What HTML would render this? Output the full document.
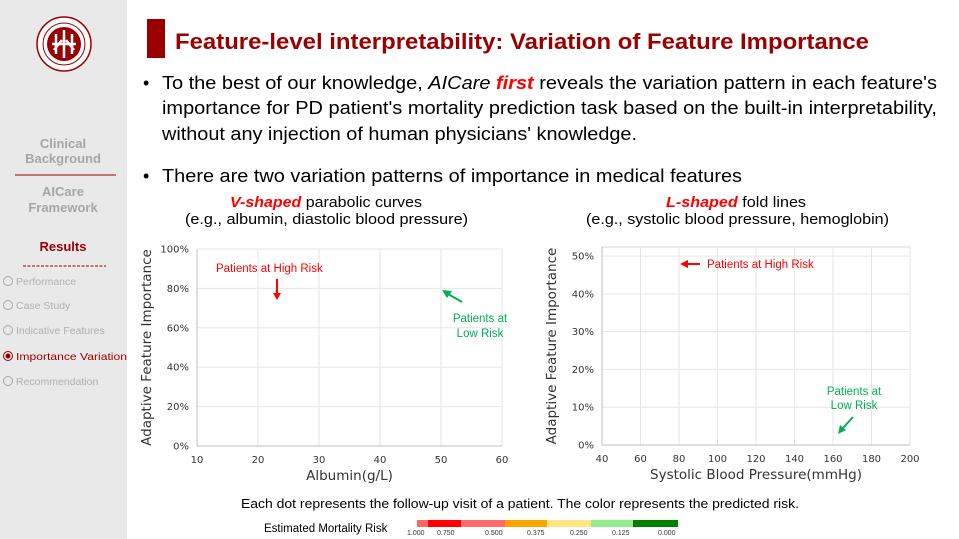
<!DOCTYPE html>
<html><head><meta charset="utf-8"><style>
html,body{margin:0;padding:0;background:#fff;}
svg{display:block;font-family:"Liberation Sans",Arial,sans-serif;}
</style></head><body>
<svg id="slide" width="959" height="539" viewBox="0 0 959 539" xmlns="http://www.w3.org/2000/svg">
<rect x="0" y="0" width="127" height="539" fill="#e9e9e9"/>
<g>
<circle cx="64" cy="44" r="27" fill="#fff" stroke="#9b0000" stroke-width="1.5"/>
<circle cx="64" cy="44" r="21" fill="none" stroke="#9b0000" stroke-width="1"/>
<circle cx="64" cy="44" r="17" fill="#9b0000"/>
<path d="M56 34 L56 54 M72 34 L72 54 M64 30 L64 58 M52 44 L76 44 M54 50 L62 40 M74 50 L66 40" stroke="#fff" stroke-width="2.5" fill="none"/>
</g>
<g font-size="13" font-weight="bold" fill="#a6a6a6" text-anchor="middle">
<text x="63" y="148">Clinical</text>
<text x="63" y="163">Background</text>
<line x1="15" y1="175" x2="116" y2="175" stroke="#9b0000" stroke-width="1"/>
<text x="63" y="196">AICare</text>
<text x="63" y="212">Framework</text>
<text x="63" y="251" fill="#9b0000">Results</text>
</g>
<line x1="23" y1="266" x2="106" y2="266" stroke="#9b0000" stroke-width="1" stroke-dasharray="3,1.5"/>
<g font-size="10.5" fill="#b0b0b0">
<g><circle cx="8" cy="281" r="4.5" fill="none" stroke="#aaa"/><text x="16" y="285">Performance</text></g>
<g><circle cx="8" cy="305" r="4.5" fill="none" stroke="#aaa"/><text x="16" y="309">Case Study</text></g>
<g><circle cx="8" cy="330" r="4.5" fill="none" stroke="#aaa"/><text x="16" y="334">Indicative Features</text></g>
<g><circle cx="8" cy="356" r="4.5" fill="none" stroke="#9b0000"/><circle cx="8" cy="356" r="2.5" fill="#9b0000"/><text x="16" y="360" fill="#9b0000" textLength="111" lengthAdjust="spacingAndGlyphs">Importance Variation</text></g>
<g><circle cx="8" cy="381" r="4.5" fill="none" stroke="#aaa"/><text x="16" y="385">Recommendation</text></g>
</g>

<rect x="147" y="19" width="18" height="39" fill="#9b0000"/>
<text x="175" y="49" font-size="22" font-weight="bold" fill="#9b0000" textLength="694" lengthAdjust="spacingAndGlyphs">Feature-level interpretability: Variation of Feature Importance</text>

<g font-size="18" fill="#000">
<text x="143" y="89">•</text>
<text x="162" y="89" textLength="775" lengthAdjust="spacingAndGlyphs">To the best of our knowledge, <tspan font-style="italic">AICare</tspan> <tspan font-style="italic" font-weight="bold" fill="#ff0000">first</tspan> reveals the variation pattern in each feature's</text>
<text x="162" y="114" textLength="775" lengthAdjust="spacingAndGlyphs">importance for PD patient's mortality prediction task based on the built-in interpretability,</text>
<text x="162" y="140" textLength="475" lengthAdjust="spacingAndGlyphs">without any injection of human physicians' knowledge.</text>
</g>
<g font-size="18" fill="#000">
<text x="143" y="182">•</text>
<text x="162" y="182" textLength="580" lengthAdjust="spacingAndGlyphs">There are two variation patterns of importance in medical features</text>
</g>
<g font-size="15" fill="#000">
<text x="230" y="207" textLength="192" lengthAdjust="spacingAndGlyphs"><tspan font-style="italic" font-weight="bold" fill="#ff0000">V-shaped</tspan> parabolic curves</text>
<text x="185" y="224" textLength="283" lengthAdjust="spacingAndGlyphs">(e.g., albumin, diastolic blood pressure)</text>
<text x="666" y="207" textLength="140" lengthAdjust="spacingAndGlyphs"><tspan font-style="italic" font-weight="bold" fill="#ff0000">L-shaped</tspan> fold lines</text>
<text x="586" y="224" textLength="303" lengthAdjust="spacingAndGlyphs">(e.g., systolic blood pressure, hemoglobin)</text>
</g>

<g id="chart1"></g>
<g id="chart2"></g>

<g>
<text x="216" y="272" font-size="11.5" fill="#ff0000">Patients at High Risk</text>
<line x1="277" y1="279" x2="277" y2="294" stroke="#ff0000" stroke-width="2"/>
<path d="M273 293 L281 293 L277 300 Z" fill="#ff0000"/>
<line x1="462" y1="302" x2="448" y2="294" stroke="#00b050" stroke-width="2"/>
<path d="M442 290 L452 291 L447 298 Z" fill="#00b050"/>
<text x="480" y="322" font-size="11.5" fill="#00b050" text-anchor="middle">Patients at</text>
<text x="480" y="337" font-size="11.5" fill="#00b050" text-anchor="middle">Low Risk</text>
</g>
<g>
<line x1="686" y1="264" x2="700" y2="264" stroke="#ff0000" stroke-width="2"/>
<path d="M680 264 L688 260 L688 268 Z" fill="#ff0000"/>
<text x="707" y="268" font-size="11.5" fill="#ff0000">Patients at High Risk</text>
<text x="854" y="395" font-size="11.5" fill="#00b050" text-anchor="middle">Patients at</text>
<text x="854" y="409" font-size="11.5" fill="#00b050" text-anchor="middle">Low Risk</text>
<line x1="853" y1="417" x2="843" y2="428" stroke="#00b050" stroke-width="2"/>
<path d="M838 434 L840 425 L846 430 Z" fill="#00b050"/>
</g>

<text x="520" y="508" font-size="13" text-anchor="middle" fill="#000" textLength="558" lengthAdjust="spacingAndGlyphs">Each dot represents the follow-up visit of a patient. The color represents the predicted risk.</text>
<text x="264" y="532" font-size="11.5" fill="#000">Estimated Mortality Risk</text>
<g id="colorbar"></g>
</svg>
<script>
const NS="http://www.w3.org/2000/svg";
// Chart 1 data
const c1XTicks=[10,20,30,40,50,60];
const c1YTicks=[0,20,40,60,80,100];
const c1Points=[]; // no visible dots in the reference
// Chart 2 data
const c2XTicks=[40,60,80,100,120,140,160,180,200];
const c2YTicks=[0,10,20,30,40,50];
const c2Points=[];
// Colour bar
const riskLabels=["1.000","0.750","0.500","0.375","0.250","0.125","0.000"];
const riskColors=["#ff6666","#ff0000","#ff6b6b","#ffa500","#ffe680","#90ee90","#008000"];

function el(tag,attrs,parent){const e=document.createElementNS(NS,tag);for(const k in attrs)e.setAttribute(k,attrs[k]);parent.appendChild(e);return e;}

function drawChart(g,cfg){
  const {x0,x1,y0,y1,xmin,xmax,ymin,ymax,xTicks,yTicks,xLabel,yLabel,points,box}=cfg;
  const sx=v=>x0+(v-xmin)/(xmax-xmin)*(x1-x0);
  const sy=v=>y0-(v-ymin)/(ymax-ymin)*(y0-y1);
  if(box) el('rect',{x:x0,y:y1,width:x1-x0,height:y0-y1,fill:'none',stroke:'#d9d9d9','stroke-width':1},g);
  else el('line',{x1:x0,y1:y1,x2:x1,y2:y1,stroke:'#e0e0e0'},g);
  xTicks.forEach(v=>{
    const gl=el('line',{x1:sx(v),y1:y1,x2:sx(v),y2:y0,stroke:'#e6e6e6'},g);
    
    
    const t=el('text',{x:sx(v),y:y0+17,'font-size':10,'text-anchor':'middle',fill:'#333','font-family':'DejaVu Sans, sans-serif'},g);
    t.textContent=v;
    
    
  });
  yTicks.forEach(v=>{
    const gl=el('line',{x1:x0,y1:sy(v),x2:x1,y2:sy(v),stroke:'#e6e6e6'},g);
    
    
    const t=el('text',{x:x0-8,y:sy(v)+3.5,'font-size':10,'text-anchor':'end',fill:'#333','font-family':'DejaVu Sans, sans-serif'},g);
    t.textContent=v+'%';
    
    
  });
  el('line',{x1:x0,y1:y1,x2:x0,y2:y0,stroke:'#bfbfbf'},g);
  el('line',{x1:x0,y1:y0,x2:x1,y2:y0,stroke:'#bfbfbf'},g);
  points.forEach(p=>{
    const c=el('circle',{cx:sx(p[0]),cy:sy(p[1]),r:2,fill:p[2]||'#f00'},g);
    
    
  });
  const xl=el('text',{x:(x0+x1)/2,y:y0+34,'font-size':13.5,'text-anchor':'middle',fill:'#333','font-family':'DejaVu Sans, sans-serif'},g);
  xl.textContent=xLabel;
  
  
  const yx=x0-46, yy=(y0+y1)/2;
  const yl=el('text',{x:yx,y:yy,'font-size':13.5,'text-anchor':'middle',fill:'#333','font-family':'DejaVu Sans, sans-serif',transform:`rotate(-90 ${yx} ${yy})`},g);
  yl.textContent=yLabel;
  
  
}
drawChart(document.getElementById('chart1'),{x0:197,x1:502,y0:446,y1:249,xmin:10,xmax:60,ymin:0,ymax:100,xTicks:c1XTicks,yTicks:c1YTicks,xLabel:'Albumin(g/L)',yLabel:'Adaptive Feature Importance',points:c1Points,box:false});
drawChart(document.getElementById('chart2'),{x0:602,x1:910,y0:445,y1:247,xmin:40,xmax:200,ymin:0,ymax:52.4,xTicks:c2XTicks,yTicks:c2YTicks,xLabel:'Systolic Blood Pressure(mmHg)',yLabel:'Adaptive Feature Importance',points:c2Points,box:true});

const cb=document.getElementById('colorbar');
const segX=[417,428,461,505,547,591,633,678];
riskColors.forEach((c,i)=>{
  const r=el('rect',{x:segX[i],y:520,width:segX[i+1]-segX[i],height:7,fill:c},cb);
  
  
});
const labX=[417,447,495,537,580,622,668];
riskLabels.forEach((l,i)=>{
  const t=el('text',{x:labX[i]-10,y:535,'font-size':7,fill:'#333'},cb);
  t.textContent=l;
  
  
});
</script>
</body></html>
